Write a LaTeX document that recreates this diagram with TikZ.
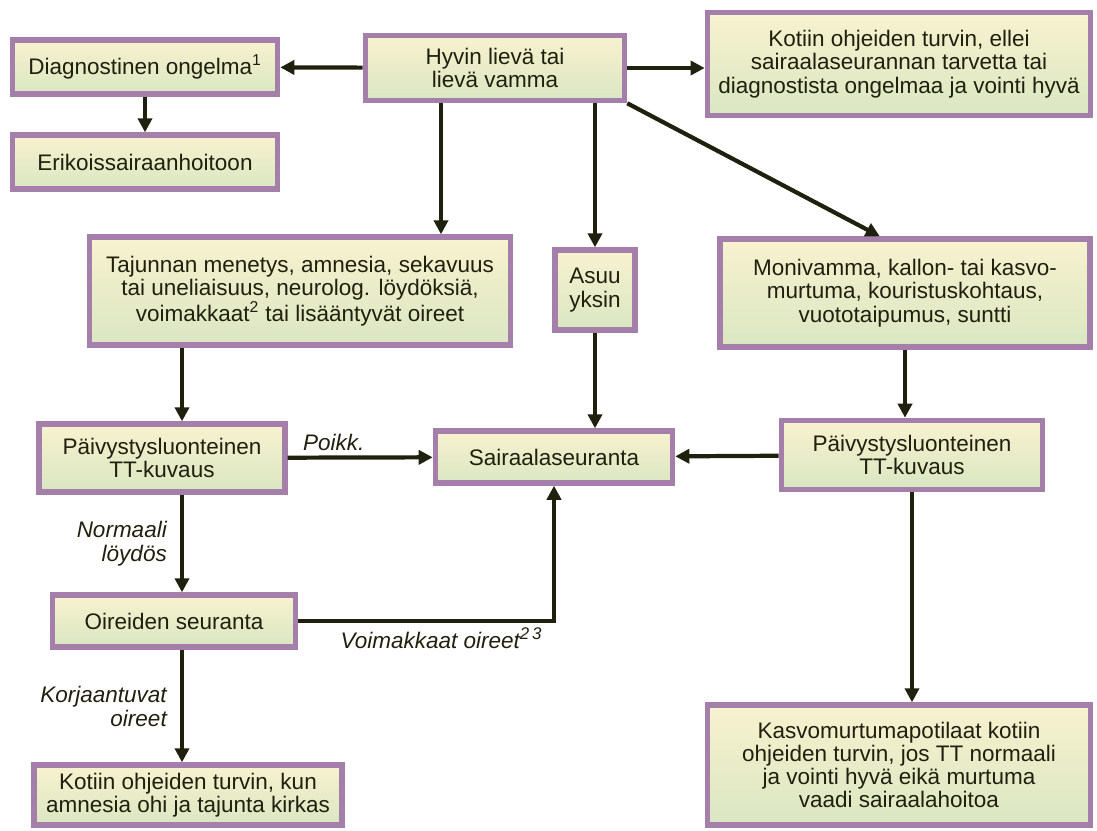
\documentclass[tikz,border=0pt]{standalone}
\usepackage{fontspec}
\setmainfont{Liberation Sans}
\usetikzlibrary{arrows.meta}
\definecolor{boxline}{HTML}{A47FA9}
\definecolor{boxtop}{HTML}{F8F2CF}
\definecolor{boxbottom}{HTML}{DAE6C2}
\definecolor{inkdark}{HTML}{20200F}
\begin{document}
\begin{tikzpicture}[x=0.025cm, y=-0.025cm,
    box/.style={draw=boxline, line width=3.8pt, top color=boxtop, bottom color=boxbottom,
      align=center, text=inkdark, inner sep=2pt, font=\fontsize{16}{16.5}\selectfont},
    arr/.style={-{Triangle[length=10pt,width=10pt]}, line width=3pt, draw=inkdark},
    note/.style={font=\fontsize{16}{17}\selectfont\itshape, text=inkdark, align=right}]
  \useasboundingbox (0,0) rectangle (1097,830);
  \draw
    (145,67) node[box, minimum width=6.63cm, minimum height=1.35cm] (diag) {Diagnostinen ongelma\textsuperscript{1}}
    (145,162) node[box, minimum width=6.63cm, minimum height=1.35cm] (erik) {Erikoissairaanhoitoon}
    (495,68) node[box, minimum width=6.48cm, minimum height=1.63cm] (hyvin) {Hyvin lievä tai\\lievä vamma}
    (899,64) node[box, minimum width=9.58cm, minimum height=2.58cm] (kotiin1) {Kotiin ohjeiden turvin, ellei\\sairaalaseurannan tarvetta tai\\diagnostista ongelmaa ja vointi hyvä}
    (300,291) node[box, minimum width=10.53cm, minimum height=2.7cm] (tajunnan) {Tajunnan menetys, amnesia, sekavuus\\tai uneliaisuus, neurolog. löydöksiä,\\voimakkaat\textsuperscript{2} tai lisääntyvät oireet}
    (595,290) node[box, minimum width=2cm, minimum height=2cm] (asuu) {Asuu\\yksin}
    (905,293) node[box, minimum width=9.25cm, minimum height=2.7cm] (moni) {Monivamma, kallon- tai kasvo-\\murtuma, kouristuskohtaus,\\vuototaipumus, suntti}
    (162,458) node[box, minimum width=6.15cm, minimum height=1.7cm] (paivL) {Päivystysluonteinen\\TT-kuvaus}
    (554,457) node[box, minimum width=5.93cm, minimum height=1.3cm] (sairaala) {Sairaalaseuranta}
    (912,455) node[box, minimum width=6.53cm, minimum height=1.73cm] (paivR) {Päivystysluonteinen\\TT-kuvaus}
    (174,621) node[box, minimum width=6.08cm, minimum height=1.3cm] (oireiden) {Oireiden seuranta}
    (188,795) node[box, minimum width=7.7cm, minimum height=1.5cm] (kotiin2) {Kotiin ohjeiden turvin, kun\\amnesia ohi ja tajunta kirkas}
    (899,765) node[box, minimum width=9.58cm, minimum height=3cm] (kasvo) {Kasvomurtumapotilaat kotiin\\ohjeiden turvin, jos TT normaali\\ja vointi hyvä eikä murtuma\\vaadi sairaalahoitoa};
  \begin{scope}[arr]
    \draw (hyvin) to (diag);
    \draw (diag) to (erik);
    \draw (hyvin.east) to (kotiin1.west |- hyvin.east);
    \draw ([xshift=-1.35cm]hyvin.south) to ([xshift=-1.35cm]hyvin.south |- tajunnan.north);
    \draw (asuu.north |- hyvin.south) to (asuu.north);
    \draw (hyvin.south east) to ([xshift=-0.63cm]moni.north);
    \draw ([xshift=0.5cm]paivL.north |- tajunnan.south) to ([xshift=0.5cm]paivL.north);
    \draw (paivL) to node[note, pos=0.06, above right] (poikk) {Poikk.} (sairaala);
    \draw (asuu) to (asuu |- sairaala.north);
    \draw (paivR) to (sairaala);
    \draw ([xshift=0.5cm]paivL.south) to node[note, left=6pt] (normaali) {Normaali\\löydös} ([xshift=0.5cm]paivL.south |- oireiden.north);
    \draw (oireiden.east) -| node[note, pos=0.28, below] (voimakkaat) {Voimakkaat oireet\textsuperscript{\large 2\,3}} (sairaala.south);
    \draw ([xshift=0.2cm]oireiden.south) to node[note, left=6pt] (korjaantuvat) {Korjaantuvat\\oireet} ([xshift=0.2cm]oireiden.south |- kotiin2.north);
    \draw (moni.south) to (moni.south |- paivR.north);
    \draw (paivR.south) to (paivR.south |- kasvo.north);
  \end{scope}
\end{tikzpicture}
\end{document}
